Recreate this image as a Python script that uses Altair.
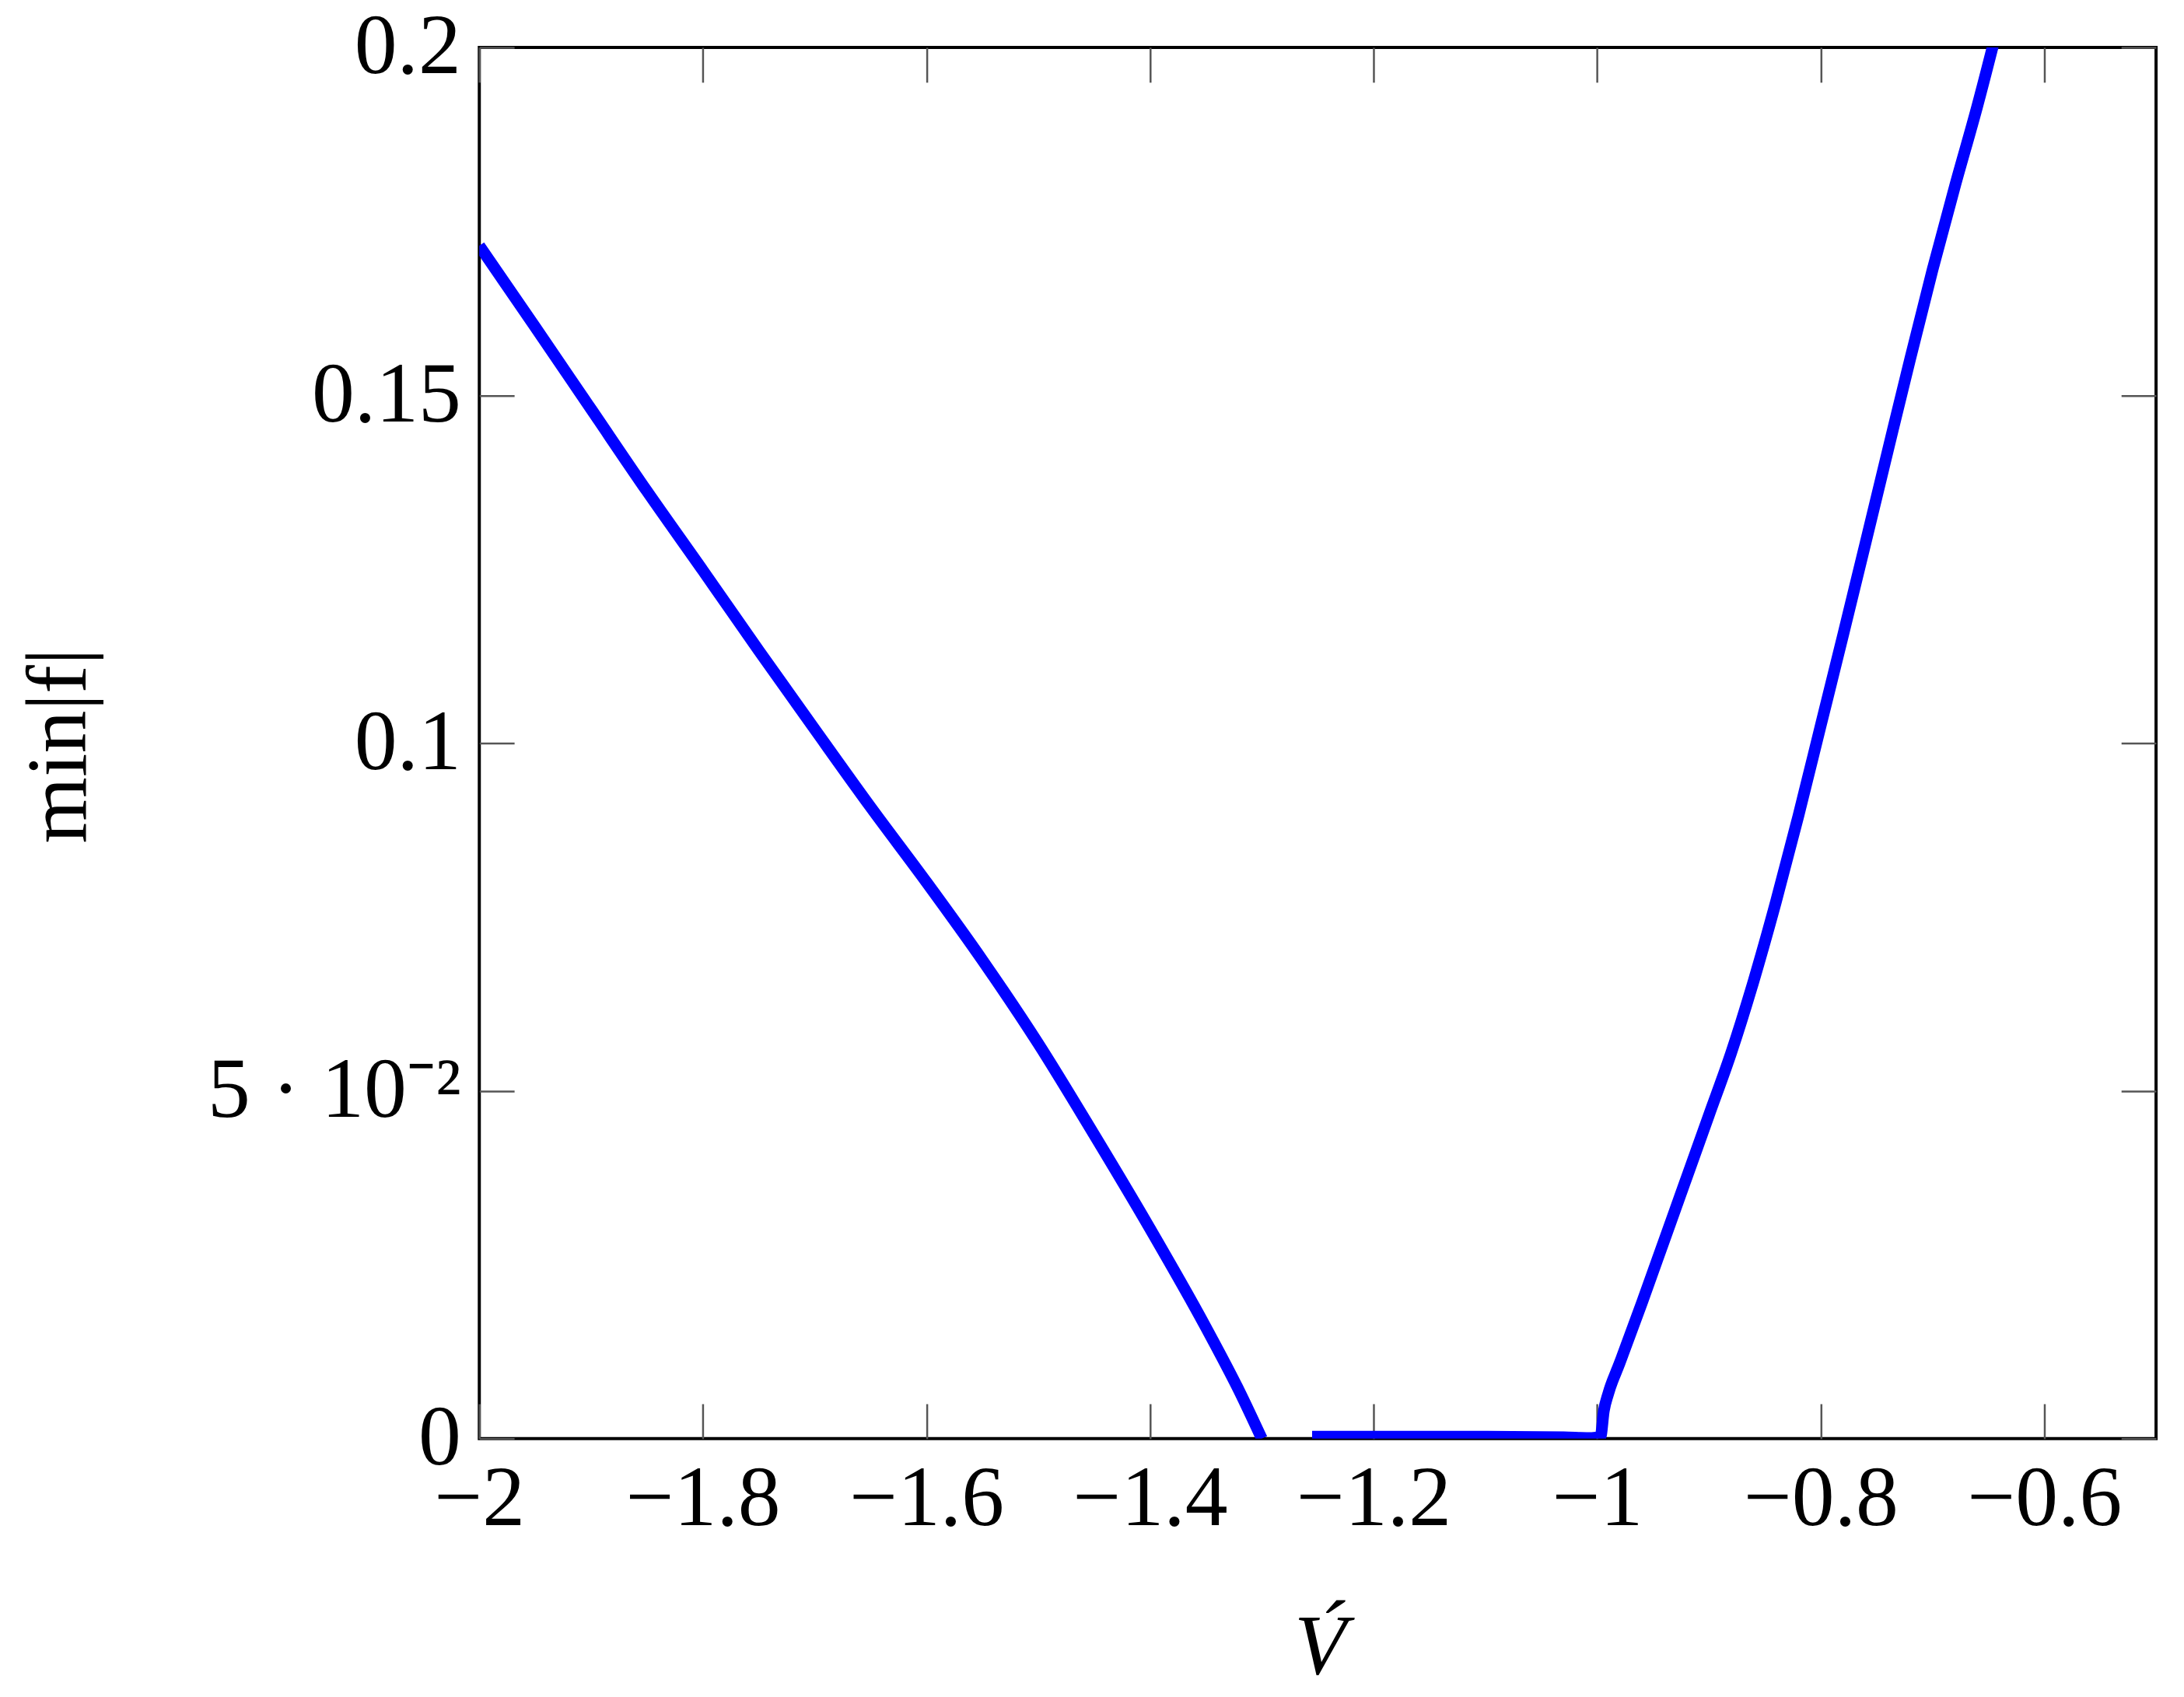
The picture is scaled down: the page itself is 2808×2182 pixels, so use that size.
import altair as alt
import pandas as pd

# ---- data ----
left_x = [-2.0, -1.95, -1.9, -1.85, -1.8, -1.75, -1.7, -1.65, -1.6, -1.55,
          -1.5, -1.45, -1.4, -1.35, -1.32, -1.30]
left_y = [0.1715, 0.1598, 0.1480, 0.1362, 0.1248, 0.1133, 0.1020, 0.0908, 0.0800, 0.0688,
          0.0568, 0.0437, 0.0302, 0.0160, 0.0068, 0.0]

right_x = [-1.255, -1.2, -1.1, -1.03, -1.005, -0.997, -0.994, -0.99, -0.98, -0.96,
           -0.94, -0.92, -0.90, -0.88, -0.86, -0.84, -0.82, -0.80, -0.78, -0.76,
           -0.74, -0.72, -0.70, -0.68, -0.66, -0.64]
right_y = [0.0003, 0.0003, 0.0003, 0.0002, 0.0001, 0.0003, 0.0040, 0.0065, 0.0108, 0.0195,
           0.0285, 0.0375, 0.0465, 0.0555, 0.0658, 0.0772, 0.0895, 0.1025, 0.1155, 0.1287,
           0.1420, 0.1552, 0.1680, 0.1800, 0.1915, 0.2040]

x_ticks = [-2.0, -1.8, -1.6, -1.4, -1.2, -1.0, -0.8, -0.6]
x_tick_labels = ["−2", "−1.8", "−1.6", "−1.4", "−1.2", "−1", "−0.8", "−0.6"]
y_ticks = [0.0, 0.05, 0.1, 0.15, 0.2]
y_tick_labels = ["0", "5 · 10⁻²", "0.1", "0.15", "0.2"]

x_title = "V\u0301"
y_title = "min|f|"

df = pd.DataFrame({
    "x": left_x + right_x,
    "y": left_y + right_y,
    "seg": ["a"] * len(left_x) + ["b"] * len(right_x),
})

W, H = 2162, 1794
TICK = 45
FONT = "Liberation Serif"
FS = 110


def lab_expr(vals, labs):
    v = ",".join(repr(float(a)) for a in vals)
    l = ",".join("'" + s + "'" for s in labs)
    return f"[{l}][indexof([{v}], datum.value)]"


x_scale = alt.Scale(domain=[-2.0, -0.5], nice=False, zero=False)
y_scale = alt.Scale(domain=[0.0, 0.2], nice=False, zero=False)

common_axis = dict(
    grid=False, domain=False, tickSize=TICK, offset=-TICK,
    tickColor="#555555", tickWidth=2.5,
    labelFont=FONT, labelFontSize=FS, labelColor="black", labelLimit=2000,
    titleFont=FONT, titleFontSize=FS, titleColor="black", titleFontWeight="normal",
    titleLimit=2000,
)

main = alt.Chart(df).mark_line(color="#0000ff", strokeWidth=15, clip=True,
                               interpolate="monotone",
                               strokeCap="butt", strokeJoin="round").encode(
    x=alt.X("x:Q", scale=x_scale,
            axis=alt.Axis(orient="bottom", values=x_ticks,
                          labelExpr=lab_expr(x_ticks, x_tick_labels),
                          labelBaseline="alphabetic", labelPadding=111,
                          labelAlign="center", labelFlush=False, labelOverlap=False,
                          title=x_title, titleFontStyle="italic",
                          titleX=W / 2 + 3, titleY=348, titleBaseline="alphabetic",
                          titleAlign="center",
                          **common_axis)),
    y=alt.Y("y:Q", scale=y_scale,
            axis=alt.Axis(orient="left", values=y_ticks,
                          labelExpr=lab_expr(y_ticks, y_tick_labels),
                          labelBaseline="middle", labelPadding=24, labelFlush=False,
                          labelOverlap=False,
                          title=y_title, titleAngle=-90, titleX=-553, titleY=900,
                          titleBaseline="alphabetic", titleAlign="center",
                          **common_axis)),
    detail="seg:N",
)

mirror = alt.Chart(df).mark_line(opacity=0).encode(
    x=alt.X("x:Q", scale=x_scale,
            axis=alt.Axis(orient="top", values=x_ticks, labels=False, title=None,
                          **common_axis)),
    y=alt.Y("y:Q", scale=y_scale,
            axis=alt.Axis(orient="right", values=y_ticks, labels=False, title=None,
                          **common_axis)),
    detail="seg:N",
)

chart = alt.layer(main, mirror).resolve_axis(x="independent", y="independent").properties(
    width=W, height=H,
    autosize=alt.AutoSizeParams(type="none"),
    padding={"left": 610, "top": 50, "right": 28, "bottom": 322},
    background="white",
).configure_view(stroke="black", strokeWidth=4)

chart.save("out.html", embed_options={"renderer": "svg", "actions": False})
